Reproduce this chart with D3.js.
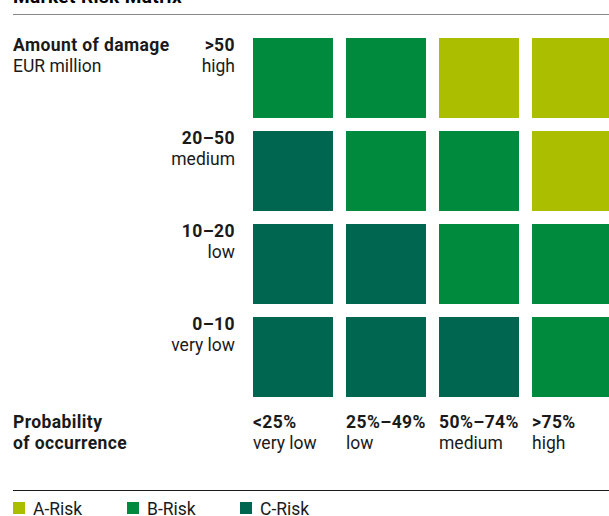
<!DOCTYPE html>
<html>
<head>
<meta charset="utf-8">
<script src="https://cdn.jsdelivr.net/npm/d3@7"></script>
<style>
  body { margin: 0; background: #fff; }
  svg { display: block; font-family: Roboto, "Noto Sans", sans-serif; }
  .b { font-weight: 700; letter-spacing: 0.4px; }
</style>
</head>
<body>
<div id="chart"></div>
<script>
// damage classes (top to bottom) and probability classes (left to right)
const damageValues = [">50", "20\u201350", "10\u201320", "0\u201310"];
const damageLabels = ["high", "medium", "low", "very low"];
const probValues = ["<25%", "25%\u201349%", "50%\u201374%", ">75%"];
const probLabels = ["very low", "low", "medium", "high"];
// risk class of each cell, rows follow damageValues
const riskRows = [
    ["B", "B", "A", "A"],
    ["C", "B", "B", "A"],
    ["C", "C", "B", "B"],
    ["C", "C", "C", "B"]
];
const riskClasses = ["A", "B", "C"];
const riskNames = ["A-Risk", "B-Risk", "C-Risk"];

const width = 609, height = 516;

const svg = d3.select("#chart").append("svg")
    .attr("width", width)
    .attr("height", height);

var color = d3.scaleOrdinal()
    .domain(riskClasses)
    .range(["#abbe00", "#008a3d", "#00664f"]);

var x = d3.scaleBand().domain(probValues).range([253, 612]).paddingInner(0.14);
var y = d3.scaleBand().domain(damageValues).range([38, 397]).paddingInner(0.14);

// title, mostly cut off at the top
svg.append("text")
    .attr("class", "b")
    .attr("x", 13).attr("y", 3)
    .style("font-size", "19px")
    .text("Market Risk Matrix");

svg.append("line")
    .attr("x1", 13).attr("x2", width)
    .attr("y1", 14.5).attr("y2", 14.5)
    .attr("stroke", "#888").attr("stroke-width", 1.2);

let cells = [];
riskRows.forEach((row, i) => row.forEach((r, j) => {
    cells.push({ d: damageValues[i], p: probValues[j], r: r });
}));

svg.append("g").selectAll("rect")
    .data(cells)
    .enter().append("rect")
    .attr("x", d => x(d.p))
    .attr("y", d => y(d.d))
    .attr("width", x.bandwidth())
    .attr("height", y.bandwidth())
    .attr("fill", d => color(d.r));

// row labels
const fs = "17.5px";
var rowG = svg.append("g").selectAll("g")
    .data(damageValues)
    .enter().append("g")
    .attr("transform", d => "translate(235," + y(d) + ")")
    .style("font-size", fs)
    .attr("text-anchor", "end")
    .attr("fill", "#1a1a1a");
rowG.append("text").attr("class", "b").attr("y", 13).text(d => d);
rowG.append("text").attr("y", 34).text((d, i) => damageLabels[i]);

svg.append("text").attr("class", "b")
    .attr("x", 13).attr("y", 51).style("font-size", fs).attr("fill", "#1a1a1a")
    .text("Amount of damage");
svg.append("text")
    .attr("x", 13).attr("y", 72).style("font-size", fs).attr("fill", "#1a1a1a")
    .text("EUR million");

// column labels
var colG = svg.append("g").selectAll("g")
    .data(probValues)
    .enter().append("g")
    .attr("transform", d => "translate(" + x(d) + ",0)")
    .style("font-size", fs)
    .attr("fill", "#1a1a1a");
colG.append("text").attr("class", "b").attr("y", 428).text(d => d);
colG.append("text").attr("y", 449).text((d, i) => probLabels[i]);

svg.append("text").attr("class", "b")
    .attr("x", 13).attr("y", 428).style("font-size", fs).attr("fill", "#1a1a1a")
    .text("Probability");
svg.append("text").attr("class", "b")
    .attr("x", 13).attr("y", 449).style("font-size", fs).attr("fill", "#1a1a1a")
    .text("of occurrence");

// legend
svg.append("line")
    .attr("x1", 13).attr("x2", width)
    .attr("y1", 490.5).attr("y2", 490.5)
    .attr("stroke", "#1a1a1a").attr("stroke-width", 1.2);

var leg = svg.append("g").selectAll("g")
    .data(riskClasses)
    .enter().append("g")
    .attr("transform", (d, i) => "translate(" + [13, 127, 240][i] + ",502)");
leg.append("rect")
    .attr("width", 12).attr("height", 12)
    .attr("fill", d => color(d));
leg.append("text")
    .attr("x", 20).attr("y", 13)
    .style("font-size", fs).attr("fill", "#1a1a1a")
    .text((d, i) => riskNames[i]);
</script>
</body>
</html>
